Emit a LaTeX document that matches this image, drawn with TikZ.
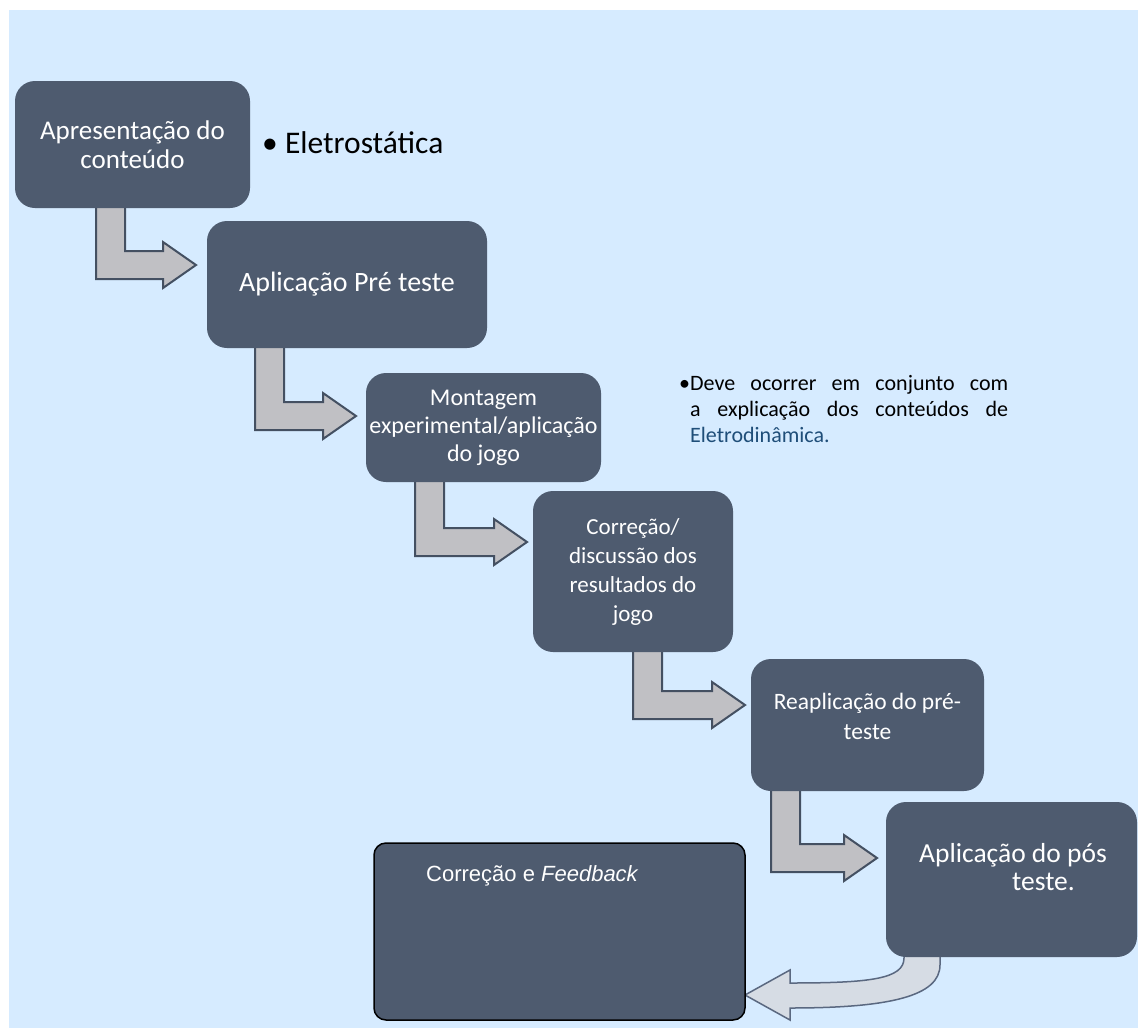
\documentclass[tikz,border=0pt]{standalone}
\usepackage{fontspec}
\setmainfont{Carlito}
\newfontfamily\arialf{Liberation Sans}
\definecolor{bg}{RGB}{214,235,255}
\definecolor{boxc}{RGB}{78,91,111}
\definecolor{arrf}{RGB}{192,192,196}
\definecolor{arre}{RGB}{68,80,98}
\definecolor{arrtwof}{RGB}{214,220,228}
\definecolor{arrtwoe}{RGB}{90,104,128}
\definecolor{linkc}{RGB}{31,78,121}
\newcommand\bentarr[4]{% #1 shaft left x, #2 top y, #3 bar centre y, #4 tip x
  \draw[bentarrow] (#1,#2) -- ({#1+29},#2) -- ({#1+29},{#3-14}) -- ({#4-33},{#3-14})
    -- ({#4-33},{#3-23}) -- (#4,#3) -- ({#4-33},{#3+23}) -- ({#4-33},{#3+14})
    -- (#1,{#3+14}) -- cycle;}
\begin{document}
\begin{tikzpicture}[x=1pt,y=-1pt,
  stepbox/.style={draw=none, fill=boxc, rounded corners=20pt, text=white, align=center, inner sep=0pt},
  steptext/.style={text=white, align=center, inner sep=0pt},
  bentarrow/.style={fill=arrf, draw=arre, line width=2pt, line join=miter},
  curvarrow/.style={fill=arrtwof, draw=arrtwoe, line width=1.5pt, line join=miter},
  note/.style={anchor=north west, inner sep=0pt, align=left, font=\fontsize{22}{26}\selectfont, text=black}]
\useasboundingbox (0,0) rectangle (1138,1028);
\fill[bg] (9,10) rectangle (1138,1028);

% bent arrows (drawn under boxes)
\bentarr{96}{200}{265}{196}
\bentarr{255}{340}{416}{356}
\bentarr{415}{474}{542}{527}
\bentarr{633}{644}{705}{745}
\bentarr{771}{783}{858}{877}

% curved arrow from last step to final box
\draw[curvarrow] (904,945) -- (904,958) .. controls (904,979) and (870,983) .. (790,983)
  -- (790,970) -- (745,995) -- (790,1020) -- (790,1008)
  .. controls (890,1008) and (940,996) .. (940,965) -- (940,945) -- cycle;

% steps
\node[stepbox, minimum width=235pt, minimum height=127pt, font=\fontsize{27}{29}\selectfont] (b1) at (132.5,144.5) {Apresentação do\\conteúdo};
\node[stepbox, minimum width=280pt, minimum height=127pt, font=\fontsize{28}{30}\selectfont] (b2) at (347,284.5) {Aplicação Pré teste};
\node[stepbox, minimum width=235pt, minimum height=109pt, font=\fontsize{24}{28}\selectfont] (b3) at (483.5,427.5) {Montagem\\experimental/aplicação\\do jogo};
\node[stepbox, minimum width=200pt, minimum height=161pt, font=\fontsize{23}{29}\selectfont] (b4) at (633,571.5) {Correção/\\discussão dos\\resultados do\\jogo};
\node[stepbox, minimum width=233pt, minimum height=132pt] (b5) at (867.5,725) {};
\node[steptext, font=\fontsize{23.5}{30}\selectfont] (t5) at (867.5,716) {Reaplicação do pré-\\teste};
\node[stepbox, minimum width=251pt, minimum height=155pt] (b6) at (1011.5,879.5) {};
\node[steptext, font=\fontsize{27.5}{28}\selectfont] (t6) at (1013,867) {Aplicação do pós\\\hspace*{61pt}teste.};

\node[draw=black, line width=1.5pt, fill=boxc, rounded corners=12pt, minimum width=371pt, minimum height=177pt, inner sep=0pt] (b7) at (559.5,931.5) {};
\node[anchor=west, inner sep=0pt, text=white, font=\arialf\fontsize{22}{26}\selectfont] (t7) at (426,876) {Correção e \textit{Feedback}};

% side notes
\node[anchor=west, inner sep=0pt, font=\fontsize{31.5}{36}\selectfont] (n1) at (262,143) {\textbullet\ Eletrostática};
\node[note] (n3) at (679,375) {%
  \makebox[329pt][s]{\textbullet Deve ocorrer em conjunto com}\\
  \hspace*{11pt}\makebox[318pt][s]{a explicação dos conteúdos de}\\
  \hspace*{11pt}\textcolor{linkc}{Eletrodinâmica.}};
\end{tikzpicture}
\end{document}
